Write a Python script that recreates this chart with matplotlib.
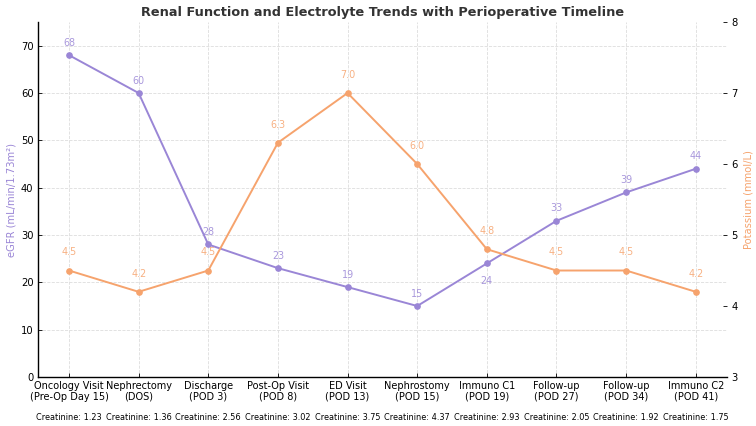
import numpy as np
import matplotlib
matplotlib.use('Agg')
import matplotlib.pyplot as plt
import matplotlib.transforms as mtransforms

# timeline points
visits = ['Oncology Visit\n(Pre-Op Day 15)', 'Nephrectomy\n(DOS)', 'Discharge\n(POD 3)',
          'Post-Op Visit\n(POD 8)', 'ED Visit\n(POD 13)', 'Nephrostomy\n(POD 15)',
          'Immuno C1\n(POD 19)', 'Follow-up\n(POD 27)', 'Follow-up\n(POD 34)',
          'Immuno C2\n(POD 41)']
egfr = [68, 60, 28, 23, 19, 15, 24, 33, 39, 44]
potassium = [4.5, 4.2, 4.5, 6.3, 7.0, 6.0, 4.8, 4.5, 4.5, 4.2]
creatinine = [1.23, 1.36, 2.56, 3.02, 3.75, 4.37, 2.93, 2.05, 1.92, 1.75]

purple = '#9a86d6'
orange = '#f6a36d'

fig = plt.figure(figsize=(7.56, 4.26), dpi=100)
ax = fig.add_axes([0.0498, 0.115, 0.912, 0.8333])
ax2 = ax.twinx()

x = np.arange(len(visits))

ax.plot(x, egfr, color=purple, lw=1.4, marker='o', ms=3.8, zorder=3)
ax2.plot(x, potassium, color=orange, lw=1.4, marker='o', ms=3.8, zorder=3)

# value labels
for i, v in enumerate(egfr):
    off = -13 if i == 6 else 9
    ax.annotate(str(v), (i, v), xytext=(0, off), textcoords='offset points',
                ha='center', va='center', fontsize=6.9, color=purple, alpha=0.85)
for i, v in enumerate(potassium):
    ax2.annotate('%.1f' % v, (i, v), xytext=(0, 13), textcoords='offset points',
                 ha='center', va='center', fontsize=6.9, color=orange, alpha=0.85)

ax.set_xlim(-0.45, len(visits) - 0.55)
ax.set_ylim(0, 75)
ax2.set_ylim(3, 8)
ax.set_yticks([0, 10, 20, 30, 40, 50, 60, 70])
ax2.set_yticks([3, 4, 5, 6, 7, 8])
ax.set_xticks(x)
ax.set_xticklabels(visits, fontsize=7.0, linespacing=1.05)

ax.grid(True, ls='--', lw=0.6, color='#dddddd')
ax.set_axisbelow(True)

for a in (ax, ax2):
    a.spines['top'].set_visible(False)
    a.spines['right'].set_visible(False)
ax2.spines['left'].set_visible(False)
ax2.spines['bottom'].set_visible(False)
ax.spines['left'].set_linewidth(1.0)
ax.spines['bottom'].set_linewidth(1.0)

ax.tick_params(axis='x', direction='in', length=3, width=0.6, labelsize=7.0, pad=3)
ax.tick_params(axis='y', direction='in', length=3, width=0.6, labelsize=7.2, pad=3)
ax2.tick_params(axis='y', direction='in', length=3, width=0.6, labelsize=7.2, pad=3)

ax.set_ylabel('eGFR (mL/min/1.73m²)', color=purple, fontsize=7.2, labelpad=3)
ax2.set_ylabel('Potassium (mmol/L)', color=orange, fontsize=7.2, labelpad=4)

ax.set_title('Renal Function and Electrolyte Trends with Perioperative Timeline',
             fontsize=9.25, fontweight='bold', color='#333333', pad=4)

trans = mtransforms.blended_transform_factory(ax.transData, ax.transAxes)
for i, c in enumerate(creatinine):
    ax.text(i, -0.113, 'Creatinine: %.2f' % c, transform=trans, ha='center',
            va='center', fontsize=5.9, color='black')

fig.savefig('out.png', dpi=100)
